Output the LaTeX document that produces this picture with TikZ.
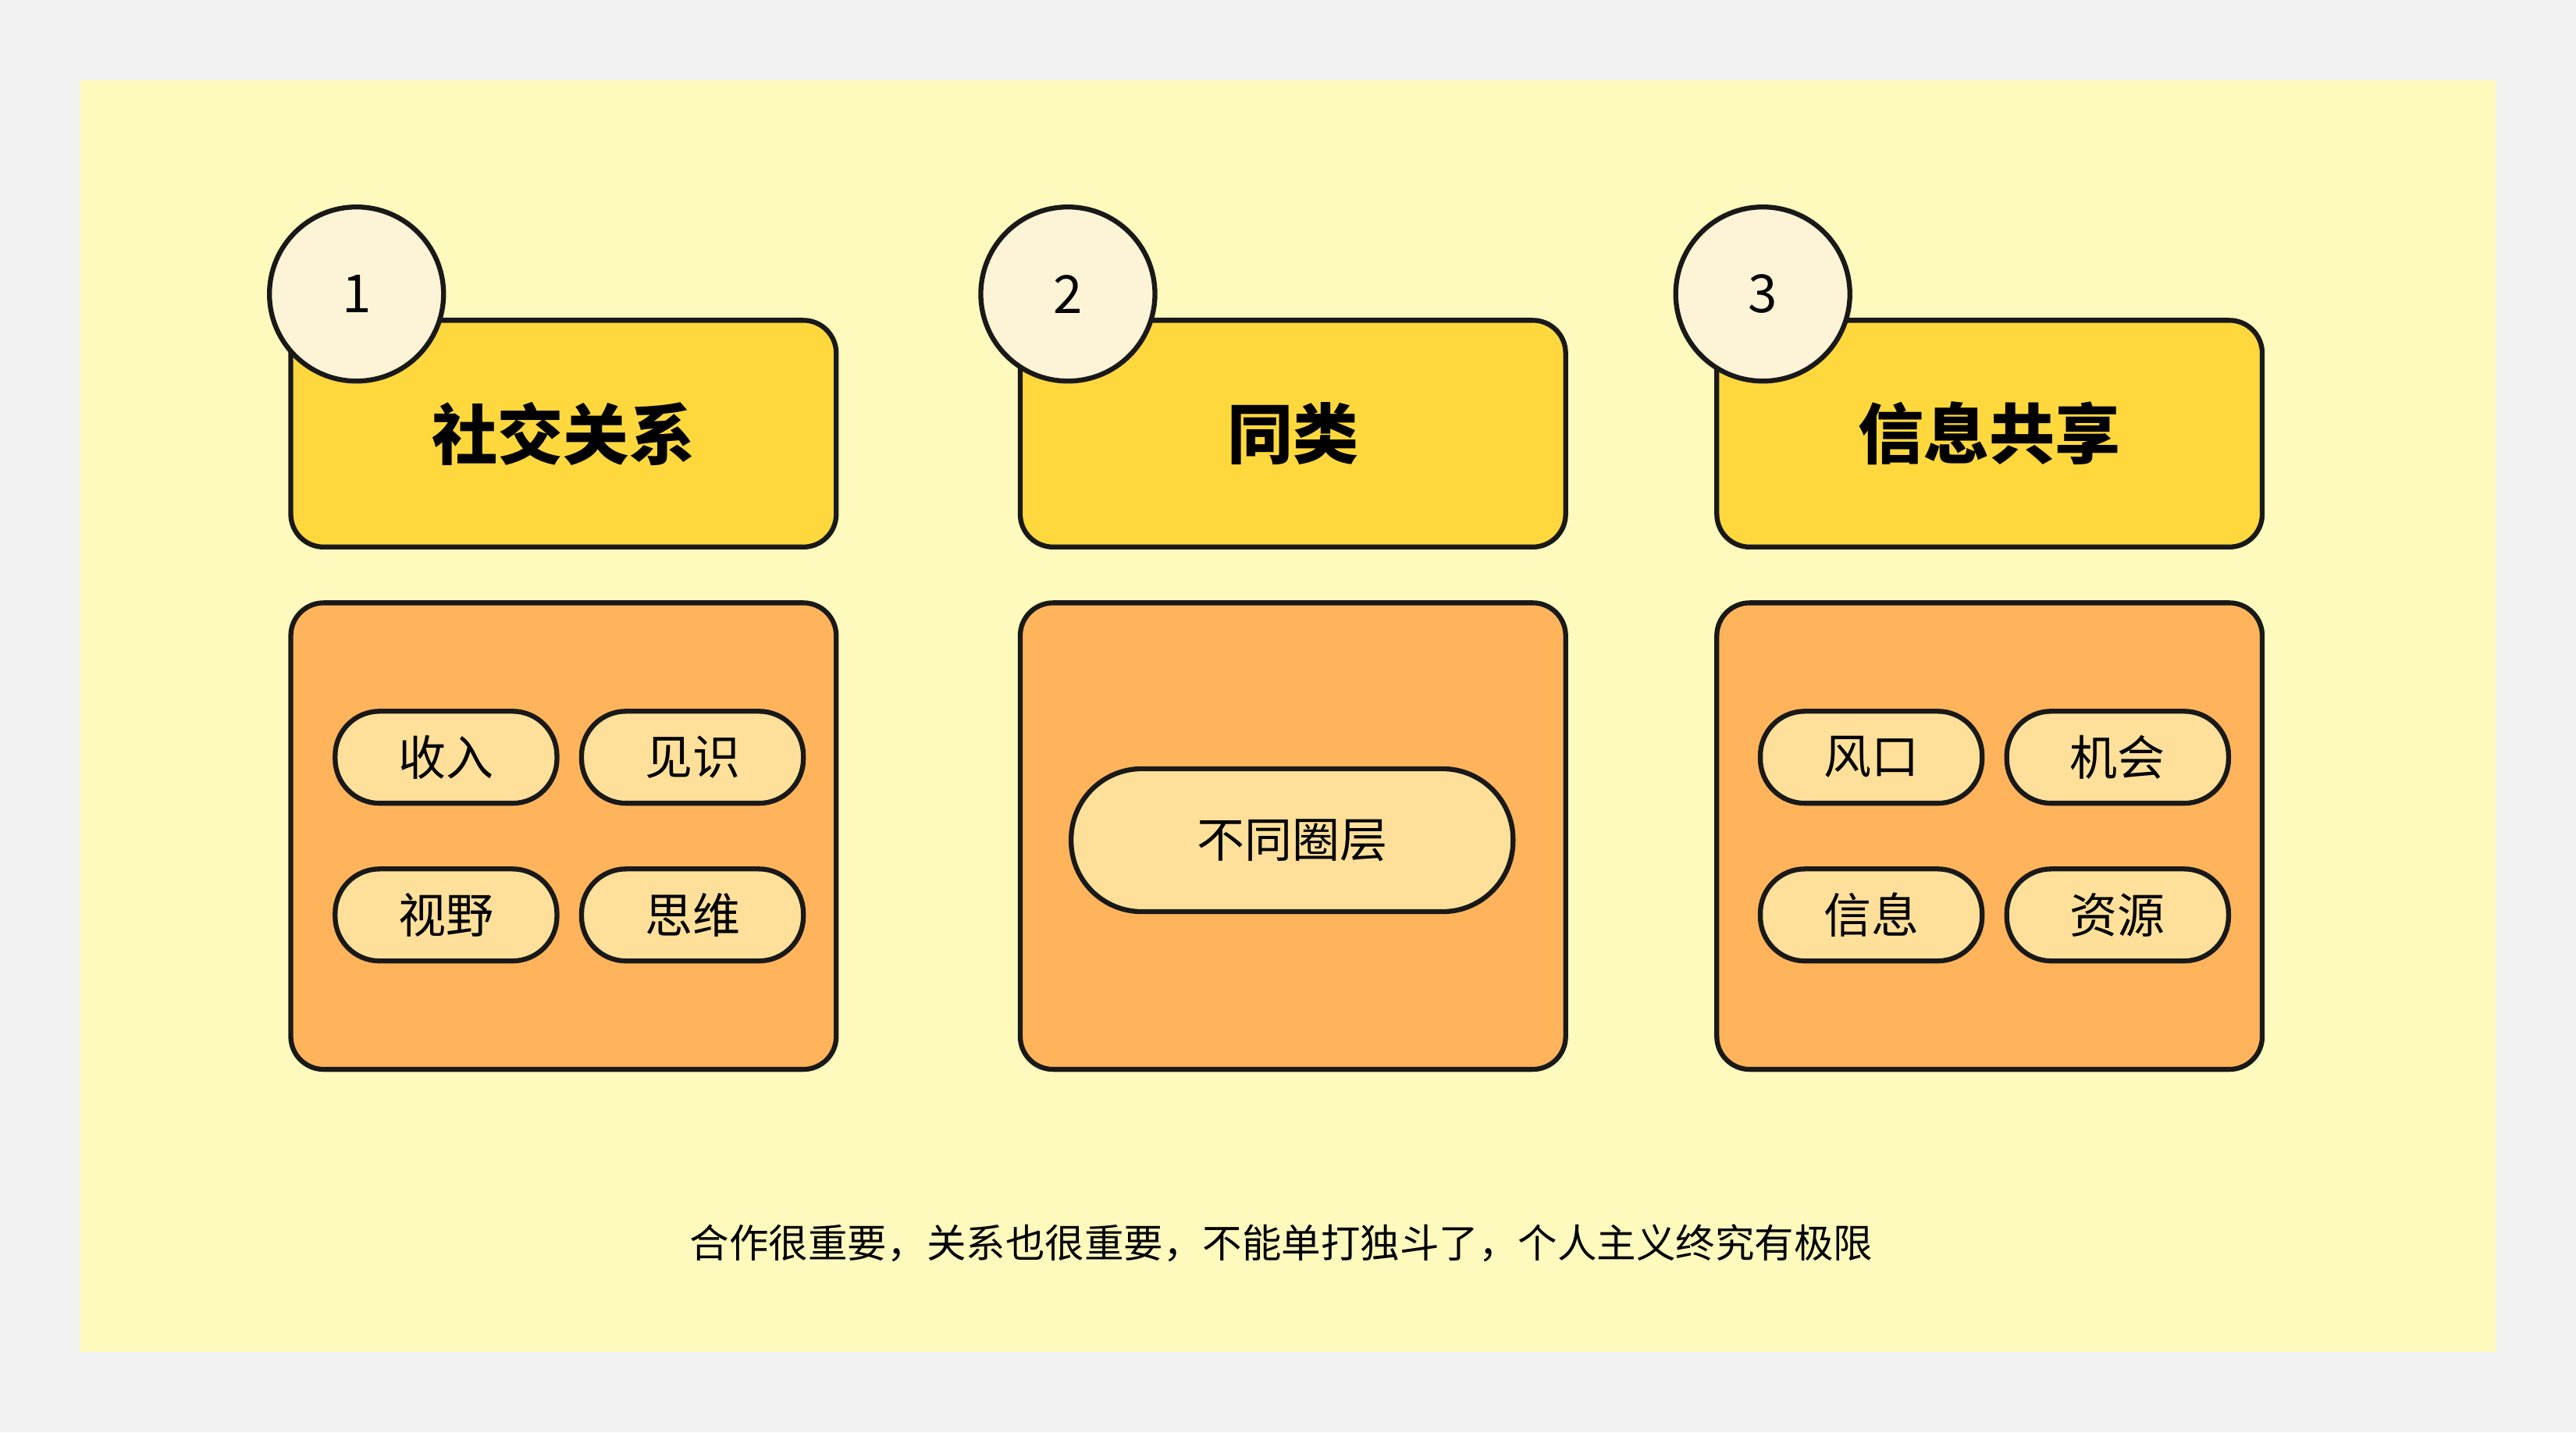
\documentclass[tikz,border=0pt]{standalone}
\usepackage{fontspec}
\newfontfamily\cjk{Noto Sans CJK SC}
\begin{document}
\begin{tikzpicture}[x=1pt,y=-1pt,
  ttl/.style={draw=black!90,line width=3pt,fill=ttlc,rounded corners=20pt,minimum width=332pt,minimum height=138pt,font=\cjk\bfseries\fontsize{40}{44}\selectfont,inner sep=0pt},
  box/.style={draw=black!90,line width=3pt,fill=boxc,rounded corners=20pt,minimum width=332pt,minimum height=284pt,inner sep=0pt},
  pill/.style={draw=black!90,line width=3pt,fill=pillc,rounded corners=27pt,minimum width=135pt,minimum height=56pt,font=\cjk\fontsize{29}{32}\selectfont,inner sep=0pt},
  num/.style={circle,draw=black!90,line width=3pt,fill=numc,minimum size=106pt,font=\cjk\fontsize{32}{36}\selectfont,inner sep=0pt}]
\definecolor{ttlc}{HTML}{FFD83D}
\definecolor{boxc}{HTML}{FFB45C}
\definecolor{pillc}{HTML}{FFE09A}
\definecolor{numc}{HTML}{FDF3D6}
\definecolor{bgc}{HTML}{FEFABD}
\fill[black!5] (0,0) rectangle (1568,872);
\fill[bgc] (49,49) rectangle (1519,823);
% column 1
\node[ttl] (t1) at (343,264) {\raisebox{0pt}{\hspace*{0pt}社交关系}};
\node[num] (n1) at (217,179) {1};
\node[box] (b1) at (343,509) {};
\node[pill] (p11) at (271.5,461) {收入};
\node[pill] (p12) at (421.5,461) {见识};
\node[pill] (p13) at (271.5,557) {视野};
\node[pill] (p14) at (421.5,557) {思维};
% column 2
\node[ttl] (t2) at (787,264) {同类};
\node[num] (n2) at (650,179) {2};
\node[box] (b2) at (787,509) {};
\node[pill,minimum width=269pt,minimum height=87pt,rounded corners=43pt] (p21) at (786.5,511.5) {不同圈层};
% column 3
\node[ttl] (t3) at (1211,264) {信息共享};
\node[num] (n3) at (1073,179) {3};
\node[box] (b3) at (1211,509) {};
\node[pill] (p31) at (1139,461) {风口};
\node[pill] (p32) at (1289,461) {机会};
\node[pill] (p33) at (1139,557) {信息};
\node[pill] (p34) at (1289,557) {资源};
\node[font=\cjk\fontsize{24}{28}\selectfont] (cap) at (780,757) {合作很重要，关系也很重要，不能单打独斗了，个人主义终究有极限};
\end{tikzpicture}
\end{document}
